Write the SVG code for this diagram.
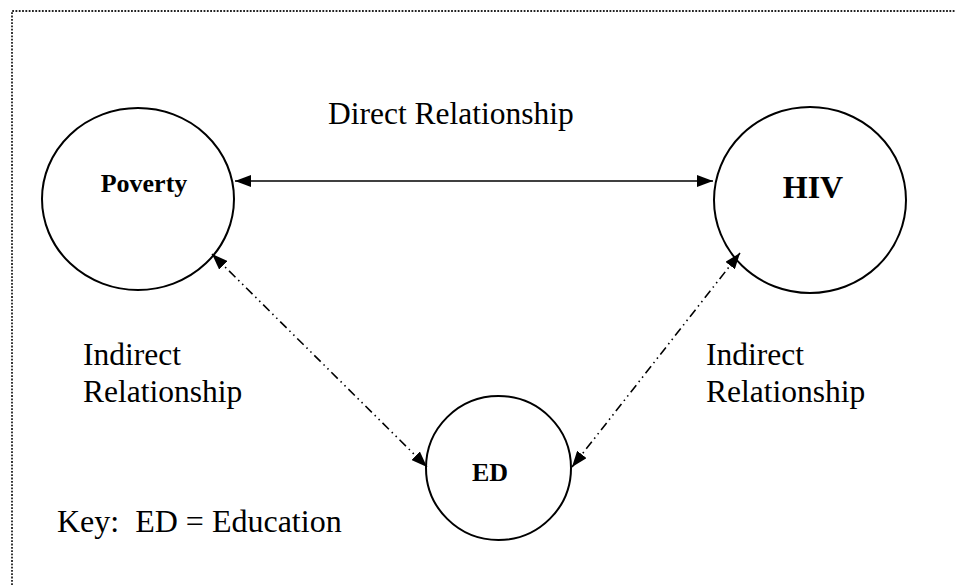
<svg xmlns="http://www.w3.org/2000/svg" width="955" height="585" viewBox="0 0 955 585">
<style>
.node{fill:#fff;stroke:#000;stroke-width:2}
.lbl{font-family:"Liberation Serif","Times New Roman",serif;fill:#000}
.b{font-weight:bold;text-anchor:middle}
.conn{stroke:#000;stroke-width:1.6;fill:none}
.dd{stroke-dasharray:9 4 1.5 4 1.5 4}
</style>
<defs>
<marker id="ah" viewBox="0 0 16 12" refX="16" refY="6" markerWidth="16" markerHeight="12" markerUnits="userSpaceOnUse" orient="auto-start-reverse">
<path d="M0,0 L16,6 L0,12 Z" fill="#000"/>
</marker>
</defs>
<rect width="955" height="585" fill="#fff"/>
<path d="M12,585 V11 H955" fill="none" stroke="#222" stroke-width="1.8" stroke-dasharray="1.8 1.5"/>
<g id="poverty">
<ellipse class="node" cx="138" cy="199" rx="96" ry="91"/>
<text class="lbl b" x="144" y="192" font-size="26">Poverty</text>
</g>
<g id="hiv">
<ellipse class="node" cx="810" cy="200" rx="96" ry="93"/>
<text class="lbl b" x="813" y="198" font-size="32">HIV</text>
</g>
<g id="ed">
<ellipse class="node" cx="498.5" cy="468" rx="72.5" ry="72"/>
<text class="lbl b" x="490" y="481" font-size="26">ED</text>
</g>
<g id="connectors">
<line class="conn" x1="235" y1="181" x2="713" y2="181" marker-start="url(#ah)" marker-end="url(#ah)"/>
<line class="conn dd" x1="212" y1="254" x2="427" y2="467" marker-start="url(#ah)" marker-end="url(#ah)"/>
<line class="conn dd" x1="740" y1="253" x2="572" y2="467" marker-start="url(#ah)" marker-end="url(#ah)"/>
</g>
<g id="labels">
<text class="lbl" x="328" y="124" font-size="31.5">Direct Relationship</text>
<text class="lbl" x="83" y="365" font-size="31.5">Indirect</text>
<text class="lbl" x="83" y="402" font-size="31.5">Relationship</text>
<text class="lbl" x="706" y="365" font-size="31.5">Indirect</text>
<text class="lbl" x="706" y="402" font-size="31.5">Relationship</text>
<text class="lbl" x="57" y="532" font-size="32" xml:space="preserve">Key:  ED = Education</text>
</g>
</svg>
